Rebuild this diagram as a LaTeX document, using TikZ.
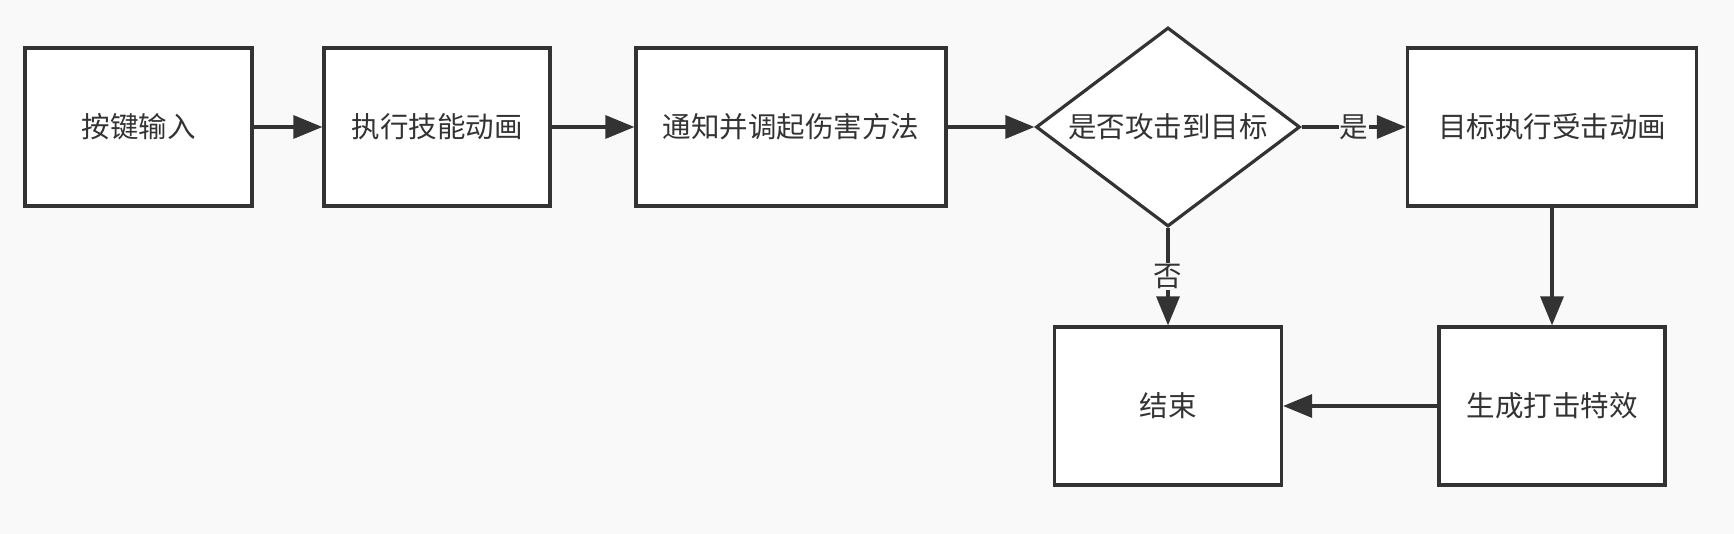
\documentclass[tikz,border=0pt]{standalone}
\usepackage{fontspec}
\newfontfamily\cjk{Noto Sans CJK SC}
\usetikzlibrary{shapes.geometric,arrows.meta}
\definecolor{bg}{HTML}{F9F9F9}
\definecolor{ink}{HTML}{333333}
\begin{document}
\begin{tikzpicture}[x=1pt,y=-1pt,
  every node/.style={font=\cjk\fontsize{28.5pt}{34pt}\selectfont, text=ink},
  box/.style={draw=ink, line width=3.2pt, fill=white, rectangle, inner sep=0pt, minimum height=158pt},
  dec/.style={draw=ink, line width=3.2pt, fill=white, diamond, shape aspect=1.33, inner sep=0pt, minimum width=264pt, minimum height=199pt},
  arr/.style={draw=ink, line width=3.2pt, -{Triangle[length=29pt,width=23pt]}},
  lbl/.style={fill=bg, inner sep=1pt}]
\fill[bg] (0,0) rectangle (1734,534);
\useasboundingbox (0,0) rectangle (1734,534);
\node[box, minimum width=227pt] (b1) at (138.5,127) {按键输入};
\node[box, minimum width=226pt] (b2) at (437,127) {执行技能动画};
\node[box, minimum width=310pt] (b3) at (791,127) {通知并调起伤害方法};
\node[dec] (d) at (1168,127) {是否攻击到目标};
\node[box, minimum width=289pt] (b4) at (1552,127) {目标执行受击动画};
\node[box, minimum width=227pt] (e) at (1168,406) {结束};
\node[box, minimum width=226pt] (fx) at (1552,406) {生成打击特效};
\draw[arr] (b1) -- (b2);
\draw[arr] (b2) -- (b3);
\draw[arr] (b3) -- (d);
\draw[arr] (d) -- node[lbl] {是} (b4);
\draw[arr] (d) -- node[lbl] {否} (e);
\draw[arr] (b4) -- (fx);
\draw[arr] (fx) -- (e);
\end{tikzpicture}
\end{document}
